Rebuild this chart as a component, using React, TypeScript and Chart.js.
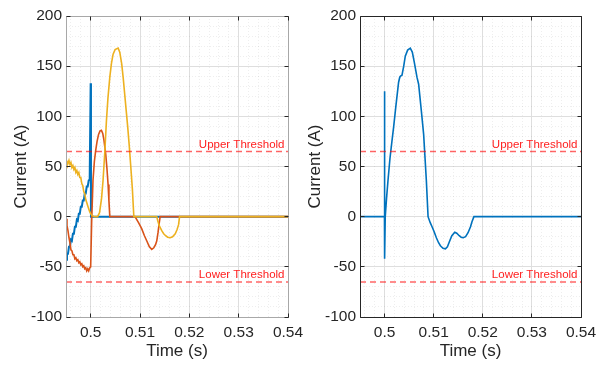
import React, { useEffect, useRef } from "react";
import { Chart, registerables } from "chart.js";

Chart.register(...registerables);

const FONT = "'Liberation Sans', Arial, Helvetica, sans-serif";
const TEXT = "#262626";

// axes
const xMin = 0.495;
const xMax = 0.54;
const yMin = -100;
const yMax = 200;
const xTicks = [0.5, 0.51, 0.52, 0.53, 0.54];
const yTicks = [-100, -50, 0, 50, 100, 150, 200];
const xMinorStep = 0.002;
const yMinorStep = 10;
const xTitle = "Time (s)";
const yTitle = "Current (A)";

// thresholds
const upperThreshold = 65;
const lowerThreshold = -65;
const upperLabel = "Upper Threshold";
const lowerLabel = "Lower Threshold";

// pre-fault sample times (left panel)
const preT = [
  0.495, 0.4952, 0.4954, 0.4956, 0.4958, 0.496, 0.4962, 0.4964, 0.4966, 0.4968,
  0.497, 0.4972, 0.4974, 0.4976, 0.4978, 0.498, 0.4982, 0.4984, 0.4986, 0.4988,
  0.499, 0.4992, 0.4994, 0.4996, 0.4998, 0.5,
];

// left panel: phase A (blue)
const blueT = [...preT, 0.50006, 0.54];
const blueI = [
  -43, -37, -37, -30, -30, -23, -24, -17, -17, -10, -10, -3, -4, 3, 3, 10, 10, 16, 16, 23,
  23, 30, 30, 36, 37, 133, 0, 0,
];

// left panel: phase B (orange)
const orangeT = [
  ...preT, 0.5002, 0.50047, 0.50075, 0.50102, 0.5013, 0.5016, 0.5019, 0.50218, 0.50245,
  0.5027, 0.50306, 0.5033, 0.50353, 0.5037, 0.50388, 0.50898, 0.5097, 0.51034, 0.5109,
  0.51136, 0.5119, 0.51238, 0.5128, 0.51315, 0.5134, 0.51365, 0.51388, 0.51408, 0.54,
];
const orangeI = [
  -2, -9, -14, -21, -26, -33, -34, -38, -38, -42, -41, -44, -43, -46, -45, -48, -47, -50,
  -49, -52, -51, -54, -52, -54, -51, -50,
  -5, 36, 55, 66, 75, 82, 85.5, 86, 83, 76, 62, 48, 32, 16, 0, 0, -6, -12, -19, -24, -30,
  -32.6, -31, -28, -24, -16, -7, 0, 0,
];

// left panel: phase C (yellow)
const yellowT = [
  ...preT, 0.5003, 0.5008, 0.5014, 0.5018, 0.5022, 0.50251, 0.50286, 0.5032, 0.5035,
  0.50388, 0.50422, 0.50455, 0.50495, 0.50557, 0.5059, 0.5063, 0.5066, 0.5069, 0.5072,
  0.5075, 0.5078, 0.5081, 0.50845, 0.50875, 0.5134, 0.5136, 0.5139, 0.51441, 0.5148,
  0.5152, 0.5156, 0.51612, 0.5166, 0.51714, 0.5175, 0.51782, 0.51802, 0.54,
];
const yellowI = [
  49, 55, 53, 56, 52, 54, 49, 51, 47, 49, 44, 46, 42, 44, 39, 39, 33, 31, 25, 23, 17, 14,
  11, 8, 5, 3,
  1, 0, 0, 4, 18, 36, 64, 96, 118, 139, 153, 162, 166.5, 168, 164, 152, 138, 122, 106,
  90, 72, 52, 28, 0, 0, -4, -9, -14, -17, -19, -20.5, -21, -20, -17, -13, -8, 0, 0,
];

// right panel: residual current (blue)
const rightT = [
  0.495, 0.49998, 0.5, 0.50002, 0.50014, 0.5004, 0.5007, 0.5011, 0.5015, 0.50184, 0.5023,
  0.50286, 0.5031, 0.50325, 0.50355, 0.5039, 0.50422, 0.5047, 0.50524, 0.50565, 0.50605,
  0.5066, 0.50694, 0.5075, 0.50796, 0.5082, 0.50851, 0.50886, 0.5093, 0.50967, 0.5101,
  0.51055, 0.511, 0.51137, 0.5119, 0.51239, 0.5128, 0.5132, 0.5137, 0.5143, 0.5147,
  0.5152, 0.5156, 0.516, 0.5165, 0.517, 0.5175, 0.5178, 0.5182, 0.54,
];
const rightI = [
  0, 0, 125, -42, 0, 18, 36, 58, 75, 89, 110, 134, 139, 140, 141, 150, 160, 166, 168, 164,
  154, 139, 132, 105, 82, 62, 36, 0, -6, -10, -15, -21, -26, -29, -31.5, -32, -30, -25,
  -19, -15.5, -16.5, -19, -20.5, -21, -20, -16, -10, -5, 0, 0,
];

type Series = { t: number[]; i: number[]; color: string; order: number; width: number };
type Panel = {
  series: Series[];
  frameColor: string;
  yWidth: number;
  padRight: number;
  yTitlePad: number;
};

const leftPanel: Panel = {
  series: [
    { t: blueT, i: blueI, color: "#0072BD", order: 3, width: 2 },
    { t: orangeT, i: orangeI, color: "#D95319", order: 2, width: 1.6 },
    { t: yellowT, i: yellowI, color: "#EDB120", order: 1, width: 1.6 },
  ],
  frameColor: "#a8a8a8",
  yWidth: 66,
  padRight: 32,
  yTitlePad: 11.5,
};

const rightPanel: Panel = {
  series: [{ t: rightT, i: rightI, color: "#0072BD", order: 1, width: 1.6 }],
  frameColor: "#262626",
  yWidth: 62,
  padRight: 15,
  yTitlePad: 7.5,
};

const align = (p: number) => Math.round(p - 0.5) + 0.5;

function buildChart(canvas: HTMLCanvasElement, panel: Panel) {
  const minorGrid = {
    id: "minorGrid",
    beforeDatasetsDraw(chart: any) {
      const { ctx, chartArea: a, scales } = chart;
      const xs = scales.x;
      const ys = scales.y;
      ctx.save();
      ctx.strokeStyle = "rgba(38,38,38,0.08)";
      ctx.lineWidth = 1;
      ctx.setLineDash([1, 2]);
      ctx.beginPath();
      const k0 = Math.ceil(xMin / xMinorStep - 1e-6);
      const k1 = Math.floor(xMax / xMinorStep + 1e-6);
      for (let k = k0; k <= k1; k++) {
        if (k % 5 === 0) continue;
        const px = align(xs.getPixelForValue(k * xMinorStep));
        ctx.moveTo(px, a.top);
        ctx.lineTo(px, a.bottom);
      }
      const j0 = Math.ceil(yMin / yMinorStep);
      const j1 = Math.floor(yMax / yMinorStep);
      for (let j = j0; j <= j1; j++) {
        if (j % 5 === 0) continue;
        const py = align(ys.getPixelForValue(j * yMinorStep));
        ctx.moveTo(a.left, py);
        ctx.lineTo(a.right, py);
      }
      ctx.stroke();
      ctx.restore();
    },
  };

  const frame = {
    id: "frame",
    afterDatasetsDraw(chart: any) {
      const { ctx, chartArea: a, scales } = chart;
      const L = align(a.left);
      const R = align(a.right);
      const T = align(a.top);
      const B = align(a.bottom);
      ctx.save();
      ctx.lineWidth = 1;
      ctx.strokeStyle = panel.frameColor;
      ctx.beginPath();
      ctx.rect(L, T, R - L, B - T);
      ctx.stroke();
      ctx.strokeStyle = TEXT;
      ctx.beginPath();
      const tl = 4;
      xTicks.forEach((v) => {
        const px = align(scales.x.getPixelForValue(v));
        ctx.moveTo(px, B);
        ctx.lineTo(px, B - tl);
        ctx.moveTo(px, T);
        ctx.lineTo(px, T + tl);
      });
      yTicks.forEach((v) => {
        const py = align(scales.y.getPixelForValue(v));
        ctx.moveTo(L, py);
        ctx.lineTo(L + tl, py);
        ctx.moveTo(R, py);
        ctx.lineTo(R - tl, py);
      });
      ctx.stroke();
      ctx.restore();
    },
  };

  const thresholdLabels = {
    id: "thresholdLabels",
    afterDatasetsDraw(chart: any) {
      const { ctx, chartArea: a, scales } = chart;
      ctx.save();
      ctx.font = `11.5px ${FONT}`;
      ctx.fillStyle = "#ff2020";
      ctx.textAlign = "right";
      ctx.textBaseline = "alphabetic";
      const uy = scales.y.getPixelForValue(upperThreshold);
      const ly = scales.y.getPixelForValue(lowerThreshold);
      ctx.fillText(upperLabel, a.right - 3.5, uy - 3.5);
      ctx.fillText(lowerLabel, a.right - 3.5, ly - 3.5);
      ctx.restore();
    },
  };

  const datasets: any[] = panel.series.map((s) => ({
    data: s.t.map((t, k) => ({ x: t, y: s.i[k] })),
    borderColor: s.color,
    borderWidth: s.width,
    pointRadius: 0,
    tension: 0,
    fill: false,
    order: s.order,
  }));
  [upperThreshold, lowerThreshold].forEach((th) => {
    datasets.push({
      data: [
        { x: xMin, y: th },
        { x: xMax, y: th },
      ],
      borderColor: "rgba(255,0,0,0.6)",
      borderWidth: 1.5,
      borderDash: [6, 4],
      pointRadius: 0,
      fill: false,
      order: 0,
    });
  });

  return new Chart(canvas, {
    type: "line",
    data: { datasets },
    options: {
      animation: false,
      responsive: false,
      maintainAspectRatio: false,
      events: [],
      layout: { padding: { left: 0, right: panel.padRight, top: 16, bottom: 0 } },
      plugins: {
        legend: { display: false },
        tooltip: { enabled: false },
        title: { display: false },
      },
      scales: {
        x: {
          type: "linear",
          min: xMin,
          max: xMax,
          afterBuildTicks: (s: any) => {
            s.ticks = xTicks.map((v) => ({ value: v }));
          },
          afterFit: (s: any) => {
            s.height = 50;
            s.paddingLeft = 0;
            s.paddingRight = 0;
          },
          ticks: {
            autoSkip: false,
            maxRotation: 0,
            padding: 6,
            color: TEXT,
            font: { family: FONT, size: 15.5 },
            callback: (v: any) => String(v),
          },
          grid: { color: "#dedede", lineWidth: 1, drawTicks: false },
          border: { display: false },
          title: {
            display: true,
            text: xTitle,
            color: TEXT,
            font: { family: FONT, size: 17 },
            padding: { top: 0, bottom: 5 },
          },
        },
        y: {
          type: "linear",
          min: yMin,
          max: yMax,
          afterBuildTicks: (s: any) => {
            s.ticks = yTicks.map((v) => ({ value: v }));
          },
          afterFit: (s: any) => {
            s.width = panel.yWidth;
            s.paddingTop = 0;
            s.paddingBottom = 0;
          },
          ticks: {
            autoSkip: false,
            padding: 4,
            color: TEXT,
            font: { family: FONT, size: 15.5 },
            callback: (v: any) => String(v),
          },
          grid: { color: "#dedede", lineWidth: 1, drawTicks: false },
          border: { display: false },
          title: {
            display: true,
            text: yTitle,
            color: TEXT,
            font: { family: FONT, size: 17 },
            padding: { top: panel.yTitlePad, bottom: 0 },
          },
        },
      },
    } as any,
    plugins: [minorGrid, frame, thresholdLabels],
  });
}

export default function App() {
  const leftRef = useRef<HTMLCanvasElement>(null);
  const rightRef = useRef<HTMLCanvasElement>(null);

  useEffect(() => {
    const c1 = buildChart(leftRef.current as HTMLCanvasElement, leftPanel);
    const c2 = buildChart(rightRef.current as HTMLCanvasElement, rightPanel);
    return () => {
      c1.destroy();
      c2.destroy();
    };
  }, []);

  return (
    <div
      style={{
        position: "absolute",
        left: 0,
        top: 0,
        width: 596,
        height: 367,
        background: "#ffffff",
        overflow: "hidden",
      }}
    >
      <canvas
        ref={leftRef}
        width={320}
        height={367}
        style={{ position: "absolute", left: 0, top: 0, width: 320, height: 367 }}
      />
      <canvas
        ref={rightRef}
        width={298}
        height={367}
        style={{ position: "absolute", left: 298, top: 0, width: 298, height: 367 }}
      />
    </div>
  );
}
